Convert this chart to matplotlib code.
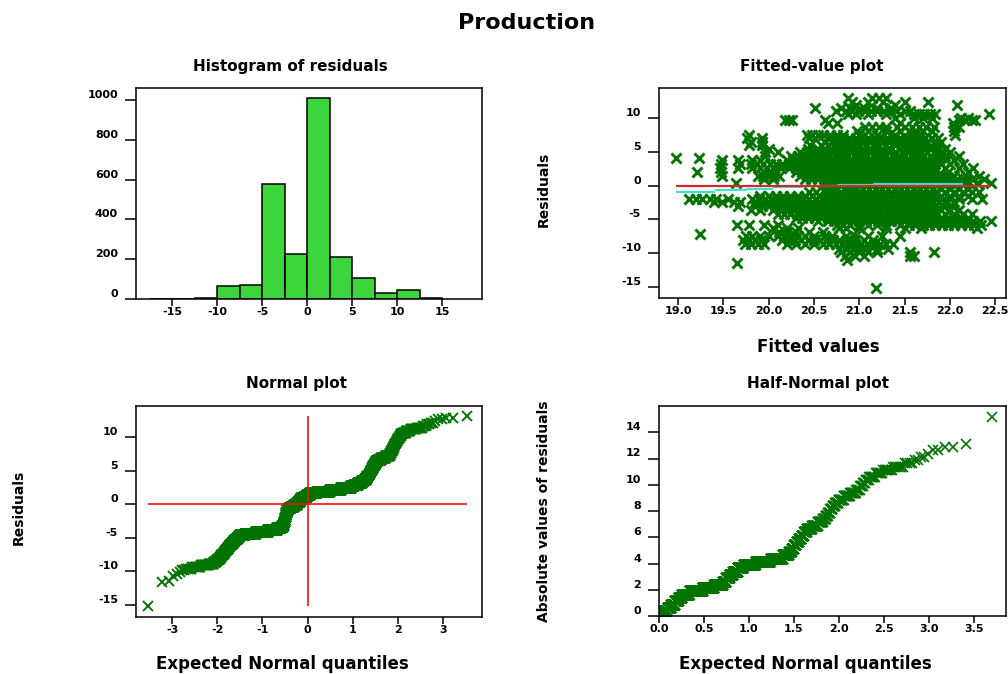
import math
import numpy as np
import matplotlib
matplotlib.use("Agg")
import matplotlib.pyplot as plt

# Residuals, grouped in 0.25-wide levels (value, how many residuals at that level)
res_value = [-15.125,
             -11.625, -11.375, -10.625, -10.375, -10.125,
             -9.875, -9.625, -9.375, -9.125, -8.875, -8.625, -8.375, -8.125, -7.875, -7.625,
             -7.375, -7.125, -6.875, -6.625, -6.375, -6.125, -5.875, -5.625, -5.375, -5.125,
             -4.875, -4.625, -4.375, -4.125, -3.875, -3.625, -3.375, -3.125, -2.875, -2.625,
             -2.375, -2.125, -1.875, -1.625, -1.375, -1.125, -0.875, -0.625, -0.375, -0.125,
             0.125, 0.375, 0.625, 0.875, 1.125, 1.375, 1.625, 1.875, 2.125, 2.375,
             2.625, 2.875, 3.125, 3.375, 3.625, 3.875, 4.125, 4.375, 4.625, 4.875,
             5.125, 5.375, 5.625, 5.875, 6.125, 6.375, 6.625, 6.875, 7.125, 7.375,
             7.625, 7.875, 8.125, 8.375, 8.625, 8.875, 9.125, 9.375, 9.625, 9.875,
             10.125, 10.375, 10.625, 10.875, 11.125, 11.375, 11.625, 11.875, 12.125, 12.375,
             12.625, 12.875, 13.125]
res_count = [1,
             1, 1, 1, 1, 1,
             2, 4, 9, 12, 11, 7, 5, 5, 5, 5,
             5, 5, 6, 6, 6, 7, 8, 9, 10, 10,
             12, 40, 100, 150, 140, 65, 40, 14, 10, 9,
             6, 6, 6, 7, 8, 10, 25, 45, 55, 60,
             30, 32, 35, 55, 60, 65, 140, 250, 200, 141,
             40, 45, 40, 25, 15, 12, 10, 9, 8, 7,
             6, 6, 7, 7, 8, 10, 20, 22, 16, 5,
             3, 3, 3, 3, 3, 3, 3, 3, 3, 3,
             3, 4, 7, 8, 8, 6, 3, 2, 2, 1,
             2, 2, 1]

hist_edges = [-17.5, -15, -12.5, -10, -7.5, -5, -2.5, 0, 2.5, 5, 7.5, 10, 12.5, 15]

# Fitted-value plot: one row per residual value, with the fitted values seen on that row
fit_row_res = [12.9, 12.4, 11.9, 11.4, 11.0, 10.5, 10.0, 9.7, 9.2, 8.6, 8.1, 7.5, 7.0, 6.5, 6.0,
               5.4, 4.9, 4.3, 4.0, 3.7, 3.2, 2.6, 2.0, 1.4, 0.9, 0.4,
               -0.5, -1.0, -1.5, -2.0, -2.5, -3.0, -3.6, -4.2, -4.8, -5.3, -5.8, -6.3, -6.9,
               -7.1, -7.5, -8.1, -8.7, -9.3, -9.8, -10.4, -11.0, -11.4, -15.1]
fit_row_x = [
    "20.88 21.14 21.22 21.30",
    "20.92 21.10 21.26 21.50 21.76",
    "20.96 21.40 22.08",
    "20.51 20.80 20.90 21.05 21.20 21.35",
    "20.74 20.85 20.92 20.99 21.06 21.13 21.20 21.27 21.34 21.41 21.50 21.56",
    "20.88 20.96 21.10 21.30 21.45 21.60 21.66 21.72 21.78 21.84 22.43",
    "21.40 21.60 21.70 21.80 22.12 22.20",
    "20.18 20.22 20.26 20.62 22.10 22.17 22.24 22.28",
    "20.66 20.75 21.45 22.03",
    "21.06 21.14 21.22 21.30 21.42 21.50 21.58 21.66 21.74 21.82 22.05 22.10",
    "20.98 21.10 21.30 21.45 21.55 21.62 21.70 21.80 22.05",
    "19.78 20.42 20.48 20.54 20.60 20.68 20.75 20.82 21.00 21.20 21.40 21.62 22.06",
    "19.76 19.93 20.45 20.68 20.75 20.82 20.89 20.96 21.03 21.10 21.17 21.24 21.31 21.38 21.45 21.52 21.59 21.66 21.73 21.80 21.87",
    "19.80 19.93 20.62 20.70 20.77 20.84 20.91 20.98 21.05 21.12 21.19 21.26 21.33 21.40 21.47 21.54 21.61 21.68 21.75 21.82 21.90",
    "19.78 19.93 20.46 20.58 20.66 20.74 20.82 20.90 21.00 21.08 21.16 21.30 21.40 21.55 21.62 21.70 21.85",
    "20.00 20.44 20.55 20.62 20.69 20.76 20.83 20.90 20.97 21.04 21.11 21.18 21.25 21.32 21.45 21.52 21.60 21.70 21.78 21.86 21.95",
    "19.96 20.10 20.35 20.42 20.49 20.56 20.63 20.70 20.77 20.84 20.91 20.98 21.05 21.12 21.19 21.26 21.33 21.40 21.47 21.54 21.61 21.68 21.75 21.85 21.92 22.00",
    "19.96 20.25 20.32 20.39 20.46 20.53 20.60 20.67 20.74 20.81 20.88 20.95 21.02 21.09 21.16 21.23 21.30 21.37 21.44 21.51 21.58 21.65 21.72 21.79 21.86 21.95 22.10",
    "18.98 19.23",
    "19.48 19.66 19.82 19.90 20.20 20.27 20.34 20.41 20.48 20.55 20.62 20.69 20.76 20.83 20.90 20.97 21.04 21.11 21.18 21.25 21.32 21.39 21.46 21.53 21.60 21.67 21.74 21.81 21.88 21.96 22.05",
    "19.47 19.68 19.80 19.87 19.94 20.01 20.08 20.15 20.22 20.29 20.36 20.43 20.50 20.57 20.64 20.71 20.78 20.85 20.92 20.99 21.06 21.13 21.20 21.27 21.34 21.41 21.48 21.55 21.62 21.69 21.76 21.83 21.90 22.00 22.15",
    "19.46 19.66 19.82 19.90 19.98 20.06 20.14 20.22 20.30 20.37 20.44 20.51 20.58 20.65 20.72 20.79 20.86 20.93 21.00 21.07 21.14 21.21 21.28 21.35 21.42 21.49 21.56 21.63 21.70 21.77 21.84 21.95 22.10 22.26",
    "19.21 19.47 20.00 20.30 20.37 20.44 20.51 20.58 20.65 20.72 20.79 20.86 20.93 21.00 21.07 21.14 21.21 21.28 21.35 21.42 21.49 21.56 21.63 21.70 21.77 21.84 21.98 22.20",
    "19.48 19.88 19.94 20.00 20.06 20.12 20.35 20.42 20.49 20.56 20.63 20.70 20.77 20.84 20.91 20.98 21.05 21.12 21.19 21.26 21.33 21.40 21.47 21.54 21.61 21.68 21.75 21.82 21.89 21.96 22.05 22.18 22.32",
    "19.95 20.05 20.40 20.47 20.54 20.61 20.68 20.75 20.82 20.89 20.96 21.03 21.10 21.17 21.24 21.31 21.38 21.45 21.52 21.59 21.66 21.73 21.80 21.87 21.94 22.01 22.08 22.15 22.25 22.38",
    "19.64 20.60 20.67 20.74 20.81 20.88 20.95 21.02 21.09 21.16 21.23 21.30 21.37 21.44 21.51 21.58 21.65 21.72 21.79 21.86 21.93 22.00 22.07 22.14 22.21 22.30 22.45",
    "20.62 20.69 20.76 20.83 20.90 20.97 21.04 21.11 21.18 21.25 21.32 21.39 21.46 21.53 21.60 21.67 21.74 21.81 21.90 22.00 22.10 22.20",
    "20.45 20.52 20.62 20.70 20.80 20.90 21.00 21.07 21.14 21.21 21.28 21.35 21.42 21.49 21.56 21.63 21.70 21.77 21.84 21.95 22.05 22.15 22.25 22.32",
    "19.90 20.00 20.08 20.16 20.24 20.32 20.40 20.48 20.56 20.64 20.71 20.78 20.85 20.92 20.99 21.06 21.13 21.20 21.27 21.34 21.41 21.48 21.55 21.62 21.69 21.76 21.83 21.90 22.00 22.10 22.20",
    "19.12 19.20 19.26 19.35 19.42 19.55 19.82 19.89 19.96 20.03 20.10 20.17 20.24 20.31 20.38 20.45 20.52 20.59 20.66 20.73 20.80 20.87 20.94 21.01 21.08 21.15 21.22 21.29 21.36 21.43 21.50 21.57 21.64 21.71 21.78 21.85 21.92 22.00 22.10 22.25 22.35",
    "19.40 19.48 19.62 19.68 19.85 19.92 19.99 20.06 20.13 20.20 20.27 20.34 20.41 20.48 20.55 20.62 20.69 20.76 20.83 20.90 20.97 21.04 21.11 21.18 21.25 21.32 21.39 21.46 21.53 21.60 21.67 21.74 21.81 21.88 21.95 22.05",
    "19.66 19.85 19.93 20.00 20.07 20.14 20.21 20.28 20.35 20.42 20.49 20.56 20.63 20.70 20.77 20.84 20.91 20.98 21.05 21.12 21.19 21.26 21.33 21.40 21.47 21.54 21.61 21.68 21.75 21.82 21.92 22.02",
    "19.80 19.90 20.05 20.14 20.21 20.28 20.35 20.42 20.49 20.56 20.63 20.70 20.77 20.84 20.91 20.98 21.05 21.12 21.19 21.26 21.33 21.40 21.47 21.54 21.61 21.68 21.75 21.82 21.90 22.00 22.10",
    "20.10 20.17 20.24 20.31 20.38 20.45 20.52 20.59 20.66 20.73 20.80 20.87 20.94 21.01 21.08 21.15 21.22 21.29 21.36 21.43 21.50 21.57 21.64 21.71 21.78 21.85 21.95 22.05 22.15 22.25",
    "20.30 20.37 20.44 20.51 20.58 20.65 20.72 20.79 20.86 20.93 21.00 21.07 21.14 21.21 21.28 21.35 21.42 21.49 21.56 21.63 21.70 21.77 21.84 21.91 21.98 22.05 22.12 22.20",
    "20.55 20.65 20.72 20.79 20.86 20.93 21.00 21.07 21.14 21.21 21.28 21.35 21.42 21.49 21.56 21.63 21.70 21.77 21.84 21.91 21.98 22.05 22.12 22.19 22.26 22.33 22.45",
    "19.65 19.78 19.95 20.10 20.75 20.82 20.90 21.00 21.10 21.20 21.30 21.45 21.55 21.62 21.70 21.77 21.84 21.91 21.98 22.05 22.12 22.20 22.27 22.34",
    "20.05 20.20 20.32 20.78 20.85 21.00 21.30 21.50 21.68 22.30",
    "20.12 20.20 20.30 20.45 20.60",
    "19.24",
    "19.75 19.82 19.90 20.00 20.10 20.17 20.24 20.31 20.40 20.50 20.62 20.70 20.85 20.95 21.10 21.25 21.45",
    "19.72 19.78 19.85 19.92 20.15 20.22 20.29 20.36 20.43 20.50 20.57 20.64 20.71 20.78 20.86 20.95 21.05 21.15",
    "19.74 19.80 19.88 19.95 20.20 20.30 20.40 20.50 20.60 20.67 20.74 20.81 20.88 20.95 21.02 21.09 21.16 21.23 21.30 21.37",
    "20.78 20.86 20.93 21.00 21.08 21.20 21.32",
    "20.80 20.90 21.00 21.10 21.20 21.56 21.82",
    "20.84 20.95 21.05 21.56 21.60",
    "20.86",
    "19.65",
    "21.19",
]

# Cyan smoother in the fitted-value plot (step pieces)
smooth_left = [18.98, 19.41, 19.76, 20.05, 20.38, 20.75, 21.15]
smooth_right = [19.41, 19.76, 20.05, 20.38, 20.75, 21.15, 22.15]
smooth_level = [-0.93, -0.70, -0.45, -0.20, -0.05, 0.10, 0.30]

# Colours
green_mark = '#007300'
green_bar = '#3cd63c'

plt.rcParams['font.family'] = ['DejaVu Sans']
plt.rcParams['font.weight'] = 'bold'

W, H = 1008, 674
fig = plt.figure(figsize=(W / 100, H / 100), dpi=100)


def px_axes(left, top, right, bottom):
    # axes box given in pixels of the final picture
    return fig.add_axes([left / W, 1 - bottom / H, (right - left) / W, (bottom - top) / H])


def px_text(x, y, s, size, **kw):
    fig.text(x / W, 1 - y / H, s, fontsize=size, fontweight='bold', **kw)


def style(ax, xt, xl, yt, yl):
    ax.set_xticks(xt, xl, fontsize=8, fontweight='bold')
    ax.set_yticks(yt, yl, fontsize=8, fontweight='bold', va='bottom')
    for sp in ax.spines.values():
        sp.set_linewidth(1.1)
    ax.tick_params(axis='y', length=8, width=1.1, pad=5)
    ax.tick_params(axis='x', length=5, width=1.1, pad=0.5)


# Normal quantile function (no scipy available)
z_grid = np.linspace(-6, 6, 24001)
cdf_grid = 0.5 * (1 + np.array([math.erf(z / math.sqrt(2)) for z in z_grid]))


def norm_ppf(p):
    return np.interp(p, cdf_grid, z_grid)


residuals = np.repeat(np.array(res_value), res_count)  # already sorted
n = len(residuals)
ranks = np.arange(1, n + 1)
q_normal = norm_ppf((ranks - 0.5) / n)
abs_sorted = np.sort(np.abs(residuals))
q_half = norm_ppf(0.5 + 0.5 * (ranks - 0.5) / n)

fit_x, fit_y = [], []
for r, xs in zip(fit_row_res, fit_row_x):
    for v in xs.split():
        fit_x.append(float(v))
        fit_y.append(r)

# --- Histogram of residuals ---
ax1 = px_axes(136, 88, 482, 299)
ax1.hist(residuals, bins=hist_edges, color=green_bar, edgecolor='black', linewidth=1.1)
ax1.set_xlim(-19, 19.4)
ax1.set_ylim(0, 1060)
style(ax1, [-15, -10, -5, 0, 5, 10, 15], ['-15', '-10', '-5', '0', '5', '10', '15'],
      [0, 200, 400, 600, 800, 1000], ['0', '200', '400', '600', '800', '1000'])

# --- Fitted-value plot ---
ax2 = px_axes(659, 88, 1006, 298)
ax2.plot(fit_x, fit_y, 'x', color=green_mark, ms=7, mew=2.1)
ax2.hlines(smooth_level, smooth_left, smooth_right, color='#40e0d0', lw=1.6)
ax2.hlines(0, min(fit_x), max(fit_x), color='#cc2a2a', lw=1.6)
ax2.set_xlim(18.79, 22.62)
ax2.set_ylim(-16.6, 14.4)
style(ax2, [19.0, 19.5, 20.0, 20.5, 21.0, 21.5, 22.0, 22.5],
      ['19.0', '19.5', '20.0', '20.5', '21.0', '21.5', '22.0', '22.5'],
      [-15, -10, -5, 0, 5, 10], ['-15', '-10', '-5', '0', '5', '10'])

# --- Normal plot ---
ax3 = px_axes(136, 406, 482, 617)
ax3.plot(q_normal, residuals, 'x', color=green_mark, ms=6.5, mew=1.4)
ax3.hlines(0, q_normal.min(), q_normal.max(), color='#ee1111', lw=1.2)
ax3.vlines(0, residuals.min(), residuals.max(), color='#ee1111', lw=1.2)
ax3.set_xlim(-3.8, 3.86)
ax3.set_ylim(-16.8, 14.6)
style(ax3, [-3, -2, -1, 0, 1, 2, 3], ['-3', '-2', '-1', '0', '1', '2', '3'],
      [-15, -10, -5, 0, 5, 10], ['-15', '-10', '-5', '0', '5', '10'])

# --- Half-Normal plot ---
ax4 = px_axes(659, 406, 1006, 616)
ax4.plot(q_half, abs_sorted, 'x', color=green_mark, ms=6.5, mew=1.2)
ax4.set_xlim(0, 3.86)
ax4.set_ylim(0, 16.0)
style(ax4, [0, 0.5, 1, 1.5, 2, 2.5, 3, 3.5], ['0.0', '0.5', '1.0', '1.5', '2.0', '2.5', '3.0', '3.5'],
      [0, 2, 4, 6, 8, 10, 12, 14], ['0', '2', '4', '6', '8', '10', '12', '14'])

# Titles and axis labels
px_text(527, 29, 'Production', 16, ha='center', va='baseline')
px_text(290, 71, 'Histogram of residuals', 11, ha='center', va='baseline')
px_text(812, 71, 'Fitted-value plot', 11, ha='center', va='baseline')
px_text(297, 388, 'Normal plot', 11, ha='center', va='baseline')
px_text(818, 388, 'Half-Normal plot', 11, ha='center', va='baseline')
px_text(818, 352, 'Fitted values', 12, ha='center', va='baseline')
px_text(282, 669, 'Expected Normal quantiles', 12, ha='center', va='baseline')
px_text(805, 669, 'Expected Normal quantiles', 12, ha='center', va='baseline')
px_text(544, 189, 'Residuals', 10, ha='center', va='center', rotation=90)
px_text(19, 507, 'Residuals', 10, ha='center', va='center', rotation=90)
px_text(544, 511, 'Absolute values of residuals', 10, ha='center', va='center', rotation=90)

fig.savefig('out.png', dpi=100)
